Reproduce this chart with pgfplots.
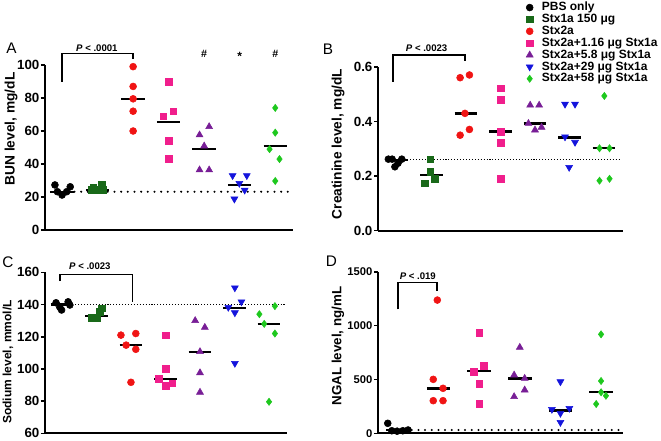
\documentclass[border=0pt]{standalone}
\usepackage{fontspec}
\setmainfont{Liberation Sans}
\usepackage{pgfplots}
\pgfplotsset{compat=1.18}
\definecolor{cdg}{RGB}{25,105,25}
\definecolor{cred}{RGB}{240,20,20}
\definecolor{cpink}{RGB}{240,30,140}
\definecolor{cpur}{RGB}{120,30,150}
\definecolor{cblue}{RGB}{20,20,220}
\definecolor{cgreen}{RGB}{30,200,30}
\pgfplotsset{
  panel/.style={
    scale only axis, clip=false,
    axis x line=bottom, axis y line=left,
    axis line style={line width=1.5pt,-,black},
    xtick=\empty,
    tick align=outside,
    major tick length=3pt,
    ytick style={line width=1.2pt,black},
    yticklabel style={font=\bfseries\fontsize{10}{12}\selectfont, inner sep=1pt},
    /pgf/number format/assume math mode=true,
    /pgf/number format/1000 sep={},
  },
  meanl/.style={black, line width=1.8pt, forget plot, no markers},
  heavydot/.style={black, line width=1.7pt, dash pattern=on 0pt off 5pt, line cap=round, forget plot, no markers},
  finedot/.style={black, line width=0.6pt, dash pattern=on 0.8pt off 1.4pt, forget plot, no markers},
  sPBS/.style={only marks, mark=*, mark size=2.6pt, color=black},
  sS1/.style={only marks, mark=square*, mark size=2.5pt, color=cdg},
  sS2/.style={only marks, mark=*, mark size=2.6pt, color=cred},
  sA/.style={only marks, mark=square*, mark size=2.5pt, color=cpink},
  sB/.style={only marks, mark=triangle*, mark size=3pt, color=cpur},
  sC/.style={only marks, mark=triangle*, mark size=3pt, mark options={rotate=180}, color=cblue},
  sD/.style={only marks, mark=diamond*, mark size=2.7pt, color=cgreen},
}
\begin{document}
\begin{tikzpicture}
\path[use as bounding box] (0,0) rectangle (495.75pt,330pt);

% ---------------- Panel A ----------------
\begin{axis}[panel, at={(33.75pt,157.5pt)}, anchor=south west,
  width=186pt, height=123.75pt,
  xmin=-0.48, xmax=6.5, ymin=0, ymax=100, ytick={0,20,40,60,80,100}]
\addplot[heavydot] coordinates {(0.35,23.2) (6.45,23.2)};
\addplot[sPBS] coordinates {(-0.2,27.3) (0.23,26.2) (0,21.2) (-0.13,23.2) (0.13,23.2)};
\addplot[sS1] coordinates {(1.12,27.6) (0.88,25.6) (1.0,24.2) (1.15,24.4) (0.82,24.5)};
\addplot[sS2] coordinates {(2,99) (2,87) (2,79.5) (2,72) (2,60)};
\addplot[sA] coordinates {(3,90) (3.13,72) (2.85,69) (3,54) (3,43)};
\addplot[sB] coordinates {(3.87,57.6) (4.14,62.6) (4,50.9) (3.87,36.4) (4.14,36.4)};
\addplot[sC] coordinates {(4.8,33) (5.2,33) (4.99,28.3) (5.14,24.2) (4.85,18.8)};
\addplot[sD] coordinates {(6,74) (6,59) (5.84,49) (6.12,43) (6,29.7)};
\addplot[meanl] coordinates {(-0.33,23.2) (0.33,23.2)};
\addplot[meanl] coordinates {(0.67,24.4) (1.33,24.4)};
\addplot[meanl] coordinates {(1.67,79.4) (2.33,79.4)};
\addplot[meanl] coordinates {(2.67,65.6) (3.33,65.6)};
\addplot[meanl] coordinates {(3.67,49) (4.33,49)};
\addplot[meanl] coordinates {(4.67,27.3) (5.33,27.3)};
\addplot[meanl] coordinates {(5.67,51) (6.33,51)};
\draw[line width=1.1pt] (axis cs:0,89.9) -- (axis cs:0,107.1) -- (axis cs:2,107.1) -- (axis cs:2,103.6);
\node[font=\bfseries\fontsize{7.2}{8}\selectfont] at (axis cs:0.98,110.2) {\textit{P} < .0001};
\node[font=\bfseries\fontsize{8}{9}\selectfont] at (axis cs:4,106.5) {\#};
\node[font=\bfseries\fontsize{9}{9}\selectfont] at (axis cs:5,105.5) {*};
\node[font=\bfseries\fontsize{8}{9}\selectfont] at (axis cs:6,106.5) {\#};
\end{axis}

% ---------------- Panel B ----------------
\begin{axis}[panel, at={(283.5pt,157.1pt)}, anchor=south west,
  width=183.75pt, height=122.6pt,
  xmin=-0.55, xmax=6.55, ymin=0, ymax=0.6, ytick={0,0.2,0.4,0.6},
  yticklabel style={/pgf/number format/.cd, fixed, fixed zerofill, precision=1},
  legend style={at={(0.604,1.402)}, anchor=north west, draw=none, fill=none, inner sep=0pt,
    font=\bfseries\fontsize{9}{10}\selectfont, row sep=0pt,
    nodes={inner sep=0.5pt, text height=6.3pt, text depth=1.6pt},
    /tikz/every odd column/.append style={column sep=6pt}},
  legend cell align=left,
  legend image code/.code={\draw[#1] plot coordinates {(0pt,0pt)};}]
\addplot[finedot] coordinates {(0.3,0.262) (6.46,0.262)};
\addplot[sPBS] coordinates {(-0.25,0.262) (-0.14,0.262) (0.14,0.262) (0.03,0.247) (-0.06,0.234)};
\addlegendentry{PBS only}
\addplot[sS1] coordinates {(0.96,0.262) (0.96,0.216) (1.1,0.19) (0.81,0.173)};
\addlegendentry{Stx1a 150 μg}
\addplot[sS2] coordinates {(1.83,0.561) (2.1,0.571) (1.97,0.43) (1.83,0.35) (2.1,0.371)};
\addlegendentry{Stx2a}
\addplot[sA] coordinates {(3,0.522) (3,0.481) (3,0.363) (3,0.322) (3,0.19)};
\addlegendentry{Stx2a+1.16 μg Stx1a}
\addplot[sB] coordinates {(3.86,0.46) (4.12,0.46) (3.81,0.393) (4.0,0.369) (4.19,0.379)};
\addlegendentry{Stx2a+5.8 μg Stx1a}
\addplot[sC] coordinates {(4.87,0.464) (5.16,0.464) (4.87,0.344) (5.16,0.324) (4.99,0.232)};
\addlegendentry{Stx2a+29 μg Stx1a}
\addplot[sD] coordinates {(6.01,0.494) (5.87,0.302) (6.16,0.302) (5.87,0.183) (6.16,0.19)};
\addlegendentry{Stx2a+58 μg Stx1a}
\addplot[meanl] coordinates {(-0.33,0.258) (0.33,0.258)};
\addplot[meanl] coordinates {(0.67,0.204) (1.33,0.204)};
\addplot[meanl] coordinates {(1.67,0.43) (2.33,0.43)};
\addplot[meanl] coordinates {(2.67,0.363) (3.33,0.363)};
\addplot[meanl] coordinates {(3.67,0.393) (4.33,0.393)};
\addplot[meanl] coordinates {(4.67,0.342) (5.33,0.342)};
\addplot[meanl] coordinates {(5.67,0.302) (6.33,0.302)};
\draw[line width=1.1pt] (axis cs:-0.12,0.546) -- (axis cs:-0.12,0.644) -- (axis cs:1.97,0.644) -- (axis cs:1.97,0.623);
\node[font=\bfseries\fontsize{7.2}{8}\selectfont] at (axis cs:0.86,0.668) {\textit{P} < .0023};
\end{axis}

% ---------------- Panel C ----------------
\begin{axis}[panel, at={(33.75pt,5pt)}, anchor=south west,
  width=181.5pt, height=120.75pt,
  xmin=-0.49, xmax=6.52, ymin=60, ymax=160, ytick={60,80,100,120,140,160}]
\addplot[finedot] coordinates {(0.3,140) (6.46,140)};
\addplot[sPBS] coordinates {(-0.17,141.1) (-0.06,138.3) (-0.01,136.6) (0.18,141.7) (0.23,139.7)};
\addplot[sS1] coordinates {(0.86,131.8) (1.02,131.8) (1.1,135.5) (1.15,137.6)};
\addplot[sS2] coordinates {(1.71,121) (2.14,122) (1.86,114.8) (2.14,112.2) (2.0,91.7)};
\addplot[sA] coordinates {(3,121) (3,100) (2.81,93.7) (3,89.6) (3.2,91)};
\addplot[sB] coordinates {(3.86,130) (4.14,125.8) (4,110.7) (4,97.6) (4,85.5)};
\addplot[sC] coordinates {(5.01,150.4) (5.2,141.7) (4.82,138.3) (5.01,134.9) (5.01,103.5)};
\addplot[sD] coordinates {(6.17,139) (5.72,134) (5.86,128) (6.17,122) (6.0,79.6)};
\addplot[meanl] coordinates {(-0.33,140.1) (0.33,140.1)};
\addplot[meanl] coordinates {(0.67,133) (1.33,133)};
\addplot[meanl] coordinates {(1.67,115) (2.33,115)};
\addplot[meanl] coordinates {(2.67,93.7) (3.33,93.7)};
\addplot[meanl] coordinates {(3.67,110.7) (4.33,110.7)};
\addplot[meanl] coordinates {(4.67,138) (5.33,138)};
\addplot[meanl] coordinates {(5.67,128) (6.33,128)};
\draw[line width=1.1pt] (axis cs:-0.06,154.6) -- (axis cs:-0.06,158.8) -- (axis cs:2.05,158.8) -- (axis cs:2.05,141.7);
\node[font=\bfseries\fontsize{7.2}{8}\selectfont] at (axis cs:0.81,164) {\textit{P} < .0023};
\end{axis}

% ---------------- Panel D ----------------
\begin{axis}[panel, at={(283.5pt,5pt)}, anchor=south west,
  width=183.75pt, height=121.2pt,
  xmin=-0.49, xmax=5.54, ymin=0, ymax=1500, ytick={0,500,1000,1500},
  yticklabel style={font=\bfseries\fontsize{8.4}{10}\selectfont}]
\addplot[heavydot] coordinates {(0.34,31) (5.47,31)};
\addplot[sPBS] coordinates {(-0.25,93) (-0.15,24) (-0.02,20) (0.12,24) (0.25,31)};
\addplot[sS2] coordinates {(0.97,1237) (0.87,501) (1.11,418) (0.87,303) (1.11,303)};
\addplot[sA] coordinates {(2,934) (1.87,572) (2.12,628) (2,458) (2,275)};
\addplot[sB] coordinates {(3,798) (2.86,541) (3.12,510) (3.12,402) (2.86,340)};
\addplot[sC] coordinates {(4,479) (3.79,223) (4.22,232) (4,186) (4,102)};
\addplot[sD] coordinates {(5,919) (5,486) (5,381) (5.12,349) (4.88,272)};
\addplot[meanl] coordinates {(-0.29,31) (0.29,31)};
\addplot[meanl] coordinates {(0.71,418) (1.29,418)};
\addplot[meanl] coordinates {(1.71,578) (2.29,578)};
\addplot[meanl] coordinates {(2.71,510) (3.29,510)};
\addplot[meanl] coordinates {(3.71,213) (4.29,213)};
\addplot[meanl] coordinates {(4.71,381) (5.29,381)};
\draw[line width=1.1pt] (axis cs:0,1151) -- (axis cs:0,1402) -- (axis cs:0.96,1402) -- (axis cs:0.96,1321);
\node[font=\bfseries\fontsize{7.2}{8}\selectfont] at (axis cs:0.49,1460) {\textit{P} < .019};
\end{axis}

% panel letters and y labels
\node[font=\fontsize{11.5}{13}\selectfont] at (8.6pt,293.6pt) {A};
\node[font=\fontsize{11.5}{13}\selectfont] at (246pt,293.25pt) {B};
\node[font=\fontsize{11.5}{13}\selectfont] at (6pt,133.5pt) {C};
\node[font=\fontsize{11.5}{13}\selectfont] at (248.6pt,134.25pt) {D};
\node[rotate=90, font=\bfseries\fontsize{10.3}{12}\selectfont] at (8.25pt,233.25pt) {BUN level, mg/dL};
\node[rotate=90, font=\bfseries\fontsize{10.3}{12}\selectfont] at (253.5pt,222pt) {Creatinine level, mg/dL};
\node[rotate=90, font=\bfseries\fontsize{9}{11}\selectfont] at (6pt,58.5pt) {Sodium level, mmol/L};
\node[rotate=90, font=\bfseries\fontsize{10}{12}\selectfont] at (253.5pt,70.5pt) {NGAL level, ng/mL};
\end{tikzpicture}
\end{document}
